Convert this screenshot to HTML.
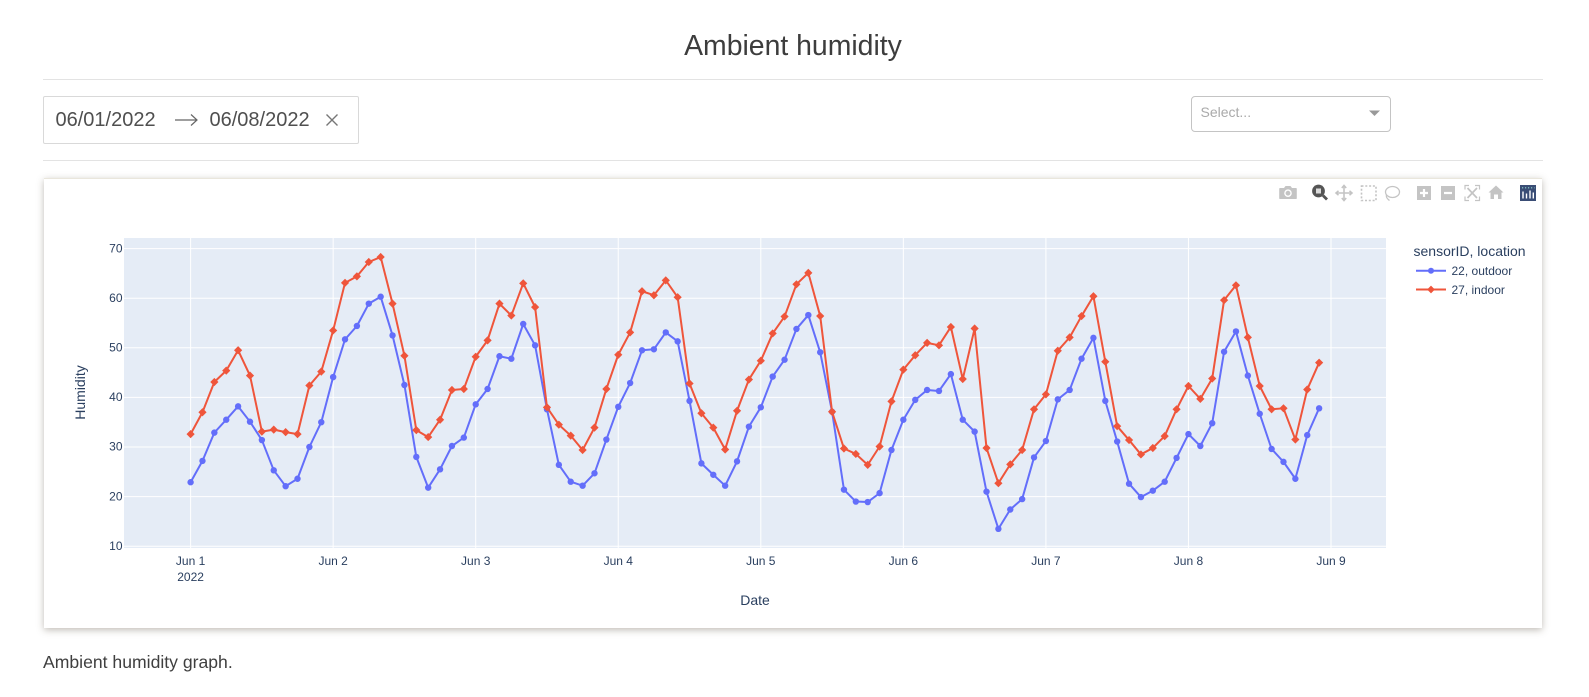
<!DOCTYPE html>
<html lang="en">
<head>
<meta charset="utf-8">
<title>Ambient humidity</title>
<style>
html,body{margin:0;padding:0;background:#fff;}
body{position:relative;width:1589px;height:697px;overflow:hidden;font-family:"Liberation Sans",sans-serif;color:#3a3a3a;}
.abs{position:absolute;}
.hr{position:absolute;left:43px;width:1500px;height:1px;background:#e3e3e3;}
#card{position:absolute;left:43.5px;top:178px;width:1498.5px;height:450px;background:#fff;border-top:1px solid #e9e6dc;box-sizing:border-box;box-shadow:0 2px 7px rgba(70,60,40,.34);}
svg text{font-family:"Liberation Sans",sans-serif;}
</style>
</head>
<body>
<div class="abs" style="left:0;width:1586px;top:29px;text-align:center;font-size:28.4px;line-height:34px;color:#3d3d3d;">Ambient humidity</div>
<div class="hr" style="top:79px;"></div>

<div class="abs" style="left:43px;top:96px;width:316px;height:48px;box-sizing:border-box;border:1px solid #d9d9d9;border-radius:2px;"></div>
<div class="abs" style="left:55.500px;top:108px;font-size:20px;line-height:24px;color:#4f4f4f;">06/01/2022</div>
<svg class="abs" style="left:172px;top:110px;" width="28" height="20"><path d="M3 10H25M19 4.5L25 10L19 15.5" fill="none" stroke="#666" stroke-width="1.2"/></svg>
<div class="abs" style="left:209.500px;top:108px;font-size:20px;line-height:24px;color:#4f4f4f;">06/08/2022</div>
<svg class="abs" style="left:324px;top:112px;" width="16" height="16"><path d="M2.500 2.500L13.500 13.500M13.500 2.500L2.500 13.500" stroke="#777" stroke-width="1.400"/></svg>

<div class="abs" style="left:1191px;top:96px;width:200px;height:36px;box-sizing:border-box;border:1px solid #c4c4c4;border-radius:4px;"></div>
<div class="abs" style="left:1200.500px;top:103px;font-size:14px;line-height:18px;color:#aaa;">Select...</div>
<svg class="abs" style="left:1369px;top:110px;" width="11" height="7"><path d="M0 0.500H11L5.500 6Z" fill="#999"/></svg>

<div class="hr" style="top:160px;"></div>

<div id="card"></div>

<svg id="chart" class="abs" style="left:0;top:0;" width="1589" height="697" xmlns="http://www.w3.org/2000/svg">
  <rect x="124" y="238" width="1262" height="310" fill="#E5ECF6"/>
  <g id="grid"></g>
  <g id="series"></g>
  <g id="ticks" fill="#2a3f5f" font-size="12"></g>
  <text x="755" y="605" text-anchor="middle" font-size="14" fill="#2a3f5f">Date</text>
  <text x="0" y="0" transform="translate(85 392.500) rotate(-90)" text-anchor="middle" font-size="14" fill="#2a3f5f">Humidity</text>

  <g>
    <text x="1413.500" y="256" font-size="14" fill="#2a3f5f">sensorID, location</text>
    <g>
      <line x1="1416" x2="1446" y1="270.700" y2="270.700" stroke="#636efa" stroke-width="2"/>
      <circle cx="1431" cy="270.700" r="3" fill="#636efa"/>
      <text x="1451.500" y="275" font-size="12" fill="#2a3f5f">22, outdoor</text>
    </g>
    <g>
      <line x1="1416" x2="1446" y1="289.500" y2="289.500" stroke="#EF553B" stroke-width="2"/>
      <path d="M1427.100 289.500L1431 285.600L1434.900 289.500L1431 293.400Z" fill="#EF553B"/>
      <text x="1451.500" y="293.800" font-size="12" fill="#2a3f5f">27, indoor</text>
    </g>
  </g>

  <g>
    <g fill="#c4c4c4">
      <path d="M1280 188h4l1.500-2h5l1.500 2h4a0.800 0.800 0 0 1 .8.800v9.400a0.800 0.800 0 0 1-.8.800h-16a0.800 0.800 0 0 1-.8-.8v-9.400a0.800 0.800 0 0 1 .8-.8z"/>
      <circle cx="1288" cy="193.200" r="3.800" fill="#fff"/><circle cx="1288" cy="193.200" r="2.400"/>
    </g>
    <g>
      <circle cx="1318.500" cy="191" r="6.400" fill="#555"/>
      <rect x="1316" y="188.500" width="5" height="5" fill="#dcdcdc"/>
      <path d="M1323 195.500L1327 199.500" stroke="#555" stroke-width="2.800"/>
    </g>
    <g fill="none" stroke="#c4c4c4" stroke-width="1.600">
      <path d="M1344 186V200M1336.500 193H1351.500"/>
      <path d="M1341.800 188L1344 185.500L1346.200 188M1341.800 198L1344 200.500L1346.200 198M1338.500 190.800L1336 193L1338.500 195.200M1349.500 190.800L1352 193L1349.500 195.200"/>
    </g>
    <rect x="1361.500" y="186" width="14.500" height="14.500" fill="none" stroke="#c4c4c4" stroke-width="1.600" stroke-dasharray="2 1.800"/>
    <g fill="none" stroke="#c4c4c4" stroke-width="1.300">
      <ellipse cx="1392.500" cy="192" rx="7" ry="5.500"/>
      <path d="M1386.500 195C1385.500 198 1389 200 1389.500 200.500"/>
    </g>
    <g>
      <rect x="1417" y="186" width="14" height="14" fill="#c4c4c4"/>
      <path d="M1424 189V197M1420 193H1428" stroke="#fff" stroke-width="2.200"/>
    </g>
    <g>
      <rect x="1441" y="186" width="14" height="14" fill="#c4c4c4"/>
      <path d="M1444 193H1452" stroke="#fff" stroke-width="2.200"/>
    </g>
    <g fill="none" stroke="#c4c4c4" stroke-width="1.200">
      <path d="M1469 185.500H1465V189.500M1475 185.500H1479.500V189.500M1469 200.500H1465V196.500M1475 200.500H1479.500V196.500"/>
      <path d="M1467.500 188L1477 198M1477 188L1467.500 198" stroke-width="1.700"/>
    </g>
    <path d="M1496 185.500L1503.500 192.500H1501.500V199H1498V194.500H1494V199H1490.500V192.500H1488.500Z" fill="#c4c4c4"/>
    <g>
      <rect x="1520" y="185" width="16" height="16" fill="#3a4d75"/>
      <path d="M1523 191.500V198.500M1526.500 193.500V198.500M1530 190.500V198.500M1533.300 192.500V198.500" stroke="#fff" stroke-width="1.400"/>
      <path d="M1522 187.800H1534.500" stroke="#8fd3d0" stroke-width="1.100" stroke-dasharray="1.200 1.800"/>
    </g>
  </g>
</svg>

<div class="abs" style="left:43px;top:652px;font-size:17.6px;line-height:21px;color:#3f3f3f;">Ambient humidity graph.</div>

<script>
const hoursSinceStart = [0,2,4,6,8,10,12,14,16,18,20,22,24,26,28,30,32,34,36,38,40,42,44,46,
48,50,52,54,56,58,60,62,64,66,68,70,72,74,76,78,80,82,84,86,88,90,92,94,
96,98,100,102,104,106,108,110,112,114,116,118,120,122,124,126,128,130,132,134,136,138,140,142,
144,146,148,150,152,154,156,158,160,162,164,166,168,170,172,174,176,178,180,182,184,186,188,190];
const outdoorHumidity = [22.9,27.2,32.9,35.5,38.2,35.1,31.4,25.3,22.1,23.6,30,35,44.1,51.7,54.4,58.9,60.3,52.5,42.5,28,21.8,25.5,30.2,31.9,
38.6,41.7,48.3,47.8,54.8,50.5,37.6,26.4,23,22.2,24.7,31.5,38.1,42.9,49.5,49.7,53.1,51.3,39.3,26.7,24.4,22.2,27.1,34.1,
38,44.2,47.6,53.8,56.6,49.1,37.1,21.4,19,18.9,20.7,29.4,35.5,39.5,41.5,41.3,44.7,35.5,33.1,21,13.5,17.4,19.5,27.9,
31.2,39.6,41.5,47.8,52,39.3,31.1,22.6,19.9,21.2,23,27.8,32.6,30.2,34.8,49.2,53.3,44.4,36.7,29.6,27,23.6,32.4,37.8];
const indoorHumidity = [32.6,37,43.1,45.4,49.5,44.4,33.1,33.5,33,32.6,42.4,45.2,53.5,63.1,64.4,67.3,68.3,58.9,48.4,33.4,32,35.5,41.5,41.7,
48.2,51.5,58.9,56.5,63,58.2,38,34.5,32.3,29.4,33.9,41.7,48.6,53.1,61.4,60.6,63.6,60.2,42.8,36.8,33.9,29.5,37.3,43.6,
47.4,52.9,56.3,62.8,65.1,56.4,37.1,29.7,28.6,26.4,30.1,39.2,45.6,48.5,51,50.5,54.2,43.7,53.9,29.8,22.7,26.5,29.4,37.6,
40.6,49.4,52.1,56.4,60.4,47.2,34.2,31.4,28.5,29.8,32.2,37.6,42.3,39.7,43.8,59.6,62.6,52.1,42.3,37.6,37.8,31.5,41.6,47];
const xTickHours = [0,24,48,72,96,120,144,168,192];
const xTickLabels = ["Jun 1","Jun 2","Jun 3","Jun 4","Jun 5","Jun 6","Jun 7","Jun 8","Jun 9"];
const yTickValues = [10,20,30,40,50,60,70];

const NS = 'http://www.w3.org/2000/svg';
function xAxis(h){ return 190.6 + h * (142.55 / 24); }
function yAxis(v){ return 546.2 - (v - 10) * 4.96; }
function make(tag, attrs, parent){
  const el = document.createElementNS(NS, tag);
  for (const k in attrs) el.setAttribute(k, attrs[k]);
  parent.appendChild(el);
  return el;
}
const gridLayer = document.getElementById('grid');
const tickLayer = document.getElementById('ticks');
const seriesLayer = document.getElementById('series');

xTickHours.forEach(function(h, i){
  const line = make('line', {x1:xAxis(h), x2:xAxis(h), y1:238, y2:548, stroke:'#fff', 'stroke-width':1}, gridLayer);
  
  
  const label = make('text', {x:xAxis(h), y:565, 'text-anchor':'middle'}, tickLayer);
  label.textContent = xTickLabels[i];
  
  
});
const yearLabel = make('text', {x:xAxis(xTickHours[0]), y:581, 'text-anchor':'middle'}, tickLayer);
yearLabel.textContent = '2022';



yTickValues.forEach(function(v){
  const line = make('line', {x1:124, x2:1386, y1:yAxis(v), y2:yAxis(v), stroke:'#fff', 'stroke-width':1}, gridLayer);
  
  
  const label = make('text', {x:122.5, y:yAxis(v) + 3.7, 'text-anchor':'end'}, tickLayer);
  label.textContent = String(v);
  
  
});

function drawSeries(values, color, shape, name){
  const group = make('g', {}, seriesLayer);
  
  
  const pts = values.map(function(v, i){ return xAxis(hoursSinceStart[i]).toFixed(2) + ',' + yAxis(v).toFixed(2); });
  const path = make('polyline', {points:pts.join(' '), fill:'none', stroke:color, 'stroke-width':2, 'stroke-linejoin':'round'}, group);
  
  
  values.forEach(function(v, i){
    const cx = xAxis(hoursSinceStart[i]), cy = yAxis(v);
    let mark;
    if (shape === 'circle') {
      mark = make('circle', {cx:cx, cy:cy, r:3.2, fill:color}, group);
    } else {
      const r = 4.1;
      mark = make('path', {d:'M' + (cx - r) + ' ' + cy + 'L' + cx + ' ' + (cy - r) + 'L' + (cx + r) + ' ' + cy + 'L' + cx + ' ' + (cy + r) + 'Z', fill:color}, group);
    }
    
    
  });
}
drawSeries(outdoorHumidity, '#636efa', 'circle', 'series-22-outdoor');
drawSeries(indoorHumidity, '#EF553B', 'diamond', 'series-27-indoor');
</script>
</body>
</html>
